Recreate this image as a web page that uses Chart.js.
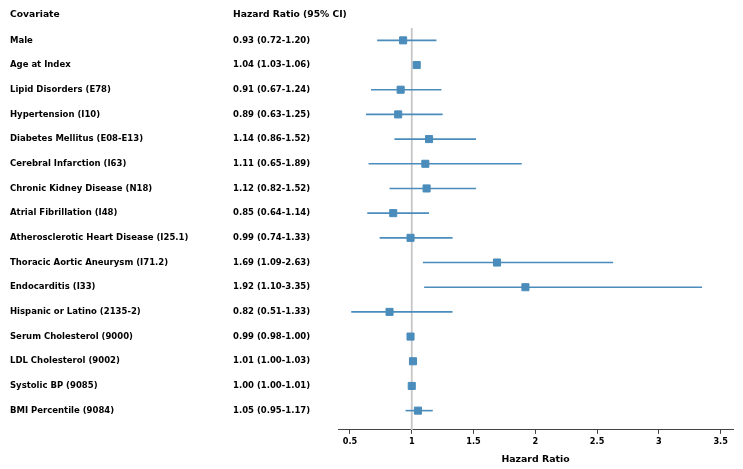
<!DOCTYPE html>
<html>
<head>
<meta charset="utf-8">
<script src="https://cdn.jsdelivr.net/npm/chart.js@4"></script>
<style>
  body { margin: 0; background: #fff; }
  #wrap { width: 743px; height: 469px; }
</style>
</head>
<body>
<div id="wrap"><canvas id="forest"></canvas></div>
<script>
const covariates = ['Male', 'Age at Index', 'Lipid Disorders (E78)', 'Hypertension (I10)',
  'Diabetes Mellitus (E08-E13)', 'Cerebral Infarction (I63)', 'Chronic Kidney Disease (N18)',
  'Atrial Fibrillation (I48)', 'Atherosclerotic Heart Disease (I25.1)', 'Thoracic Aortic Aneurysm (I71.2)',
  'Endocarditis (I33)', 'Hispanic or Latino (2135-2)', 'Serum Cholesterol (9000)',
  'LDL Cholesterol (9002)', 'Systolic BP (9085)', 'BMI Percentile (9084)'];
const hazardRatio = [0.93, 1.04, 0.91, 0.89, 1.14, 1.11, 1.12, 0.85, 0.99, 1.69, 1.92, 0.82, 0.99, 1.01, 1.00, 1.05];
const ciLower = [0.72, 1.03, 0.67, 0.63, 0.86, 0.65, 0.82, 0.64, 0.74, 1.09, 1.10, 0.51, 0.98, 1.00, 1.00, 0.95];
const ciUpper = [1.20, 1.06, 1.24, 1.25, 1.52, 1.89, 1.52, 1.14, 1.33, 2.63, 3.35, 1.33, 1.00, 1.03, 1.01, 1.17];
const xTicks = [0.5, 1, 1.5, 2, 2.5, 3, 3.5];

const blue = '#4a8cbb';
const font = 'DejaVu Sans';

// one short line per covariate for its confidence interval
const ciSets = covariates.map((c, i) => ({
  type: 'line',
  data: [{x: ciLower[i], y: i}, {x: ciUpper[i], y: i}],
  borderColor: blue,
  borderWidth: 1.6,
  pointRadius: 0,
  order: 2
}));

const textColumns = {
  id: 'textColumns',
  afterDraw(chart) {
    const ctx = chart.ctx;
    const y = chart.scales.y;
    ctx.save();
    ctx.fillStyle = '#000';
    ctx.textBaseline = 'middle';
    ctx.textAlign = 'left';
    ctx.font = 'bold 9.2px "' + font + '"';
    ctx.fillText('Covariate', 10, 15);
    ctx.fillText('Hazard Ratio (95% CI)', 233, 15);
    ctx.font = 'bold 8.5px "' + font + '"';
    covariates.forEach((c, i) => {
      const py = y.getPixelForValue(i);
      ctx.fillText(c, 10, py);
      const txt = hazardRatio[i].toFixed(2) + ' (' + ciLower[i].toFixed(2) + '-' + ciUpper[i].toFixed(2) + ')';
      ctx.fillText(txt, 233, py);
    });
    ctx.restore();
  }
};

new Chart(document.getElementById('forest'), {
  type: 'scatter',
  data: {
    datasets: [
      {
        type: 'line',
        data: [{x: 1, y: -0.5}, {x: 1, y: 15.78}],
        borderColor: '#c6c6c6',
        borderWidth: 1.8,
        pointRadius: 0,
        order: 3
      },
      ...ciSets,
      {
        data: hazardRatio.map((v, i) => ({x: v, y: i})),
        backgroundColor: blue,
        borderColor: blue,
        borderWidth: 1,
        pointStyle: 'rect',
        pointRadius: 5,
        order: 1
      }
    ]
  },
  options: {
    responsive: true,
    maintainAspectRatio: false,
    animation: false,
    layout: { padding: { left: 338, right: 10, top: 28, bottom: 4 } },
    plugins: { legend: { display: false }, tooltip: { enabled: false } },
    scales: {
      x: {
        type: 'linear',
        min: 0.403,
        max: 3.6,
        afterBuildTicks: axis => { axis.ticks = xTicks.map(v => ({value: v})); },
        ticks: {
          color: '#000',
          font: { family: font, size: 8.2, weight: 'bold' },
          padding: 3,
          maxRotation: 0,
          callback: v => String(v)
        },
        grid: { drawOnChartArea: false, drawTicks: true, tickLength: 4, color: '#444' },
        border: { display: true, color: '#444', width: 1 },
        title: {
          display: true,
          text: 'Hazard Ratio',
          color: '#000',
          font: { family: font, size: 9.4, weight: 'bold' },
          padding: { top: 4, bottom: 0 }
        }
      },
      y: {
        type: 'linear',
        reverse: true,
        min: -0.5,
        max: 15.78,
        display: false
      }
    }
  },
  plugins: [textColumns]
});
</script>
</body>
</html>
